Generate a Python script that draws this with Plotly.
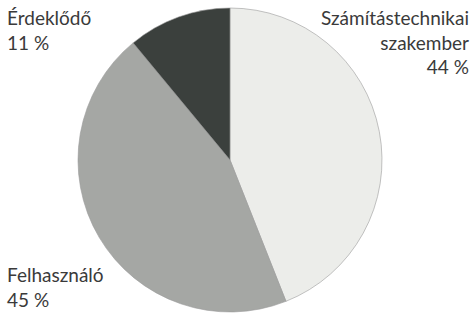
import plotly.graph_objects as go

labels = ["Számítástechnikai\nszakember", "Felhasználó", "Érdeklődő"]
values = [44, 45, 11]
colors = ["#ecedea", "#a5a7a4", "#3b403d"]

fig = go.Figure()
fig.add_trace(go.Pie(
    labels=[l.replace("\n", " ") for l in labels],
    values=values,
    sort=False,
    direction="clockwise",
    rotation=0,
    marker=dict(colors=colors, line=dict(color="#9a9a9a", width=0.6)),
    textinfo="none",
    hoverinfo="label+percent",
    showlegend=False,
    domain=dict(x=[78/475, 382/475], y=[1-312/313, 1-8/313]),
))

font = dict(family="Lato, 'DejaVu Sans', sans-serif", size=19, color="#3a3a3a")

def txt(i):
    return labels[i].replace("\n", "<br>") + "<br>" + f"{values[i]} %"

fig.add_annotation(text=txt(0), x=471/475, y=1-4/313, xref="paper", yref="paper",
                   xanchor="right", yanchor="top", align="right", showarrow=False, font=font)
fig.add_annotation(text=txt(2), x=5/475, y=1-4/313, xref="paper", yref="paper",
                   xanchor="left", yanchor="top", align="left", showarrow=False, font=font)
fig.add_annotation(text=txt(1), x=5/475, y=1-261/313, xref="paper", yref="paper",
                   xanchor="left", yanchor="top", align="left", showarrow=False, font=font)

fig.update_layout(width=475, height=313, margin=dict(l=0, r=0, t=0, b=0),
                  paper_bgcolor="white", plot_bgcolor="white")
fig.write_html("out.html", config={"displayModeBar": False},
               post_script="document.body.style.margin='0px';document.body.style.overflow='hidden';")
